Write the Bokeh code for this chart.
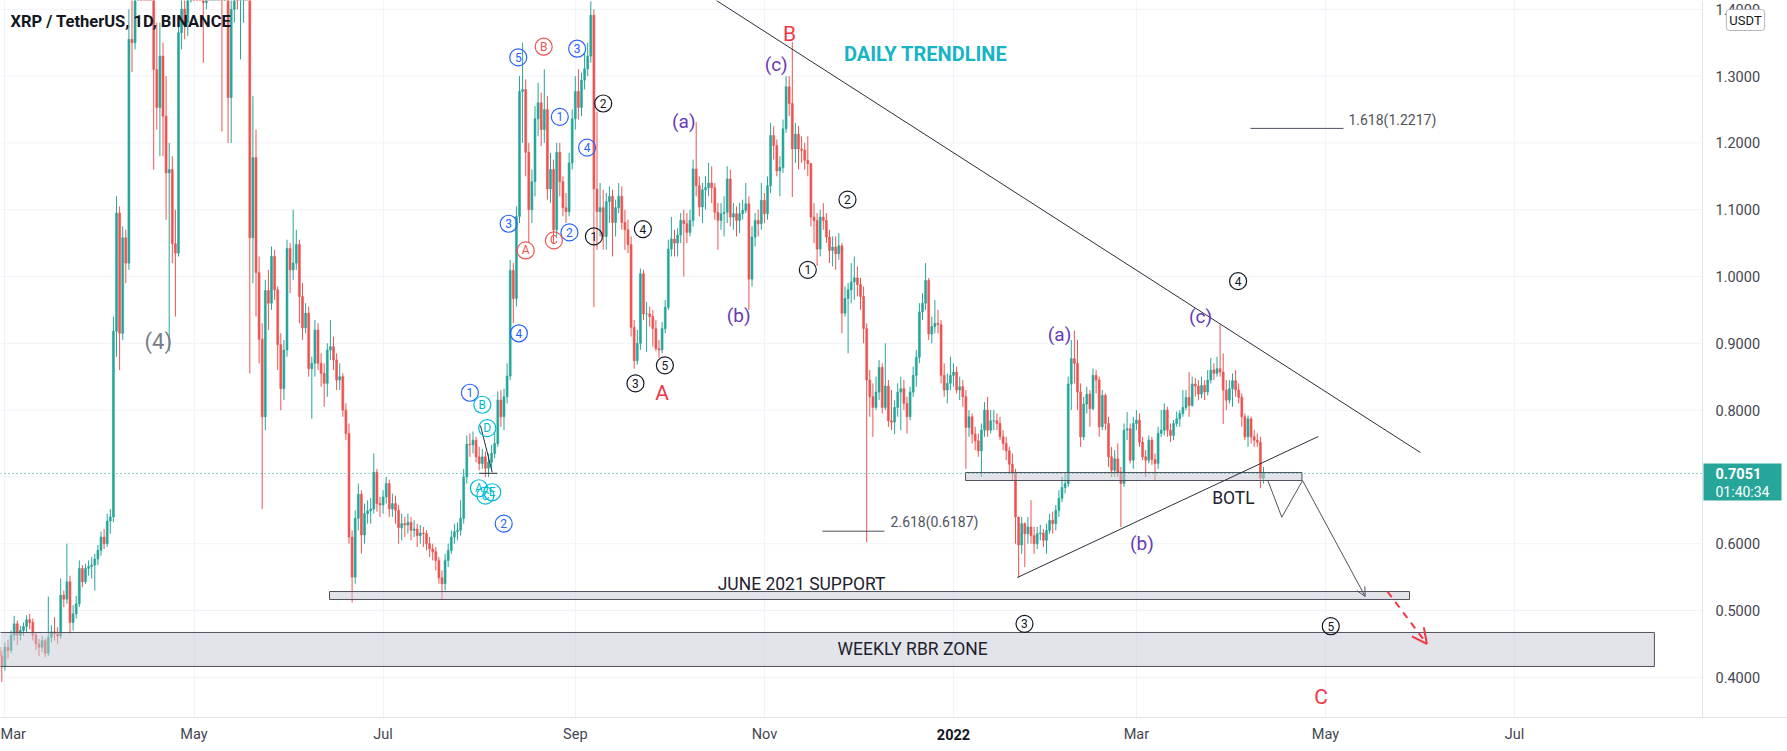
import numpy as np
import pandas as pd
from bokeh.plotting import figure
from bokeh.models import (Range1d, FixedTicker, Label, Arrow, OpenHead,
                          ColumnDataSource, Span, LinearAxis)
from bokeh.core.properties import value
from bokeh.embed import file_html
from bokeh.resources import INLINE

# ------------------------------------------------------------------ data
last_date = "2022-04-11"
first_open = 0.445
close = [
    0.432, 0.416,
    0.445, 0.440, 0.463, 0.480, 0.463, 0.470, 0.476, 0.486, 0.482, 0.463, 0.450, 0.445, 0.455, 0.436, 0.460, 0.468, 0.465, 0.462, 0.523, 0.517, 0.543, 0.482, 0.495, 0.510, 0.563, 0.543, 0.563, 0.566, 0.568, 0.577, 0.590,
    0.610, 0.600, 0.634, 0.640, 0.918, 1.095, 0.915, 1.058, 1.020, 1.355, 1.350, 1.480, 1.780, 1.740, 1.700, 1.550, 1.470, 1.310, 1.253, 1.330, 1.240, 1.155, 1.160, 1.049, 1.035, 1.365, 1.400, 1.380, 1.420, 1.600,
    1.580, 1.540, 1.480, 1.410, 1.560, 1.550, 1.590, 1.620, 1.580, 1.470, 1.530, 1.268, 1.400, 1.520, 1.440, 1.470, 1.520, 1.480, 1.058, 1.178, 1.006, 0.906, 0.790, 0.979, 0.960, 1.030, 0.980, 0.898, 0.832, 0.890, 1.042,
    1.010, 1.020, 1.048, 0.970, 0.923, 0.945, 0.862, 0.870, 0.920, 0.870, 0.855, 0.840, 0.890, 0.895, 0.875, 0.845, 0.850, 0.800, 0.765, 0.610, 0.550, 0.638, 0.674, 0.613, 0.645, 0.649, 0.652, 0.707, 0.660, 0.658,
    0.670, 0.690, 0.652, 0.660, 0.650, 0.624, 0.630, 0.628, 0.632, 0.620, 0.622, 0.612, 0.616, 0.615, 0.600, 0.592, 0.588, 0.575, 0.549, 0.540, 0.575, 0.590, 0.610, 0.618, 0.620, 0.638, 0.700, 0.749, 0.748, 0.755, 0.730,
    0.720, 0.730, 0.713, 0.722, 0.735, 0.750, 0.815, 0.790, 0.820, 0.851, 1.009, 0.967, 1.090, 1.277, 1.280, 1.186, 1.100, 1.142, 1.236, 1.260, 1.220, 1.250, 1.131, 1.160, 1.070, 1.186, 1.142, 1.103, 1.097, 1.170, 1.236,
    1.277, 1.253, 1.294, 1.311, 1.330, 1.391, 1.131, 1.097, 1.103, 1.060, 1.112, 1.120, 1.081, 1.103, 1.120, 1.081, 1.070, 1.048, 0.924, 0.874, 0.900, 1.004, 0.944, 0.944, 0.940, 0.922, 0.892, 0.890, 0.922, 0.954,
    1.041, 1.056, 1.050, 1.062, 1.084, 1.079, 1.066, 1.084, 1.161, 1.136, 1.104, 1.130, 1.133, 1.140, 1.133, 1.096, 1.084, 1.094, 1.096, 1.146, 1.089, 1.094, 1.084, 1.094, 1.099, 1.109, 0.996, 1.059, 1.084, 1.079, 1.114,
    1.094, 1.136, 1.211, 1.196, 1.158, 1.163, 1.221, 1.284, 1.259, 1.191, 1.213, 1.191, 1.189, 1.174, 1.169, 1.089, 1.084, 1.041, 1.089, 1.084, 1.059, 1.039, 1.044, 1.034, 1.046, 0.945, 0.967, 0.980, 0.992, 0.998,
    0.988, 0.970, 0.922, 0.845, 0.820, 0.804, 0.827, 0.864, 0.804, 0.836, 0.784, 0.782, 0.804, 0.827, 0.832, 0.810, 0.790, 0.827, 0.852, 0.879, 0.947, 0.960, 0.994, 0.914, 0.925, 0.930, 0.928, 0.852, 0.830, 0.840, 0.852,
    0.857, 0.830, 0.835, 0.820, 0.774, 0.790, 0.764, 0.754, 0.739, 0.770, 0.800, 0.770, 0.784, 0.784, 0.780, 0.760, 0.750, 0.739, 0.719, 0.705, 0.640, 0.598, 0.630, 0.615, 0.625, 0.612, 0.600, 0.615, 0.616, 0.605, 0.620,
    0.635, 0.630, 0.650, 0.668, 0.684, 0.690, 0.839, 0.877, 0.870, 0.827, 0.760, 0.809, 0.824, 0.802, 0.852, 0.845, 0.775, 0.822, 0.780, 0.730, 0.710, 0.727, 0.707, 0.690, 0.770, 0.772, 0.725, 0.780,
    0.785, 0.752, 0.730, 0.725, 0.755, 0.726, 0.720, 0.765, 0.770, 0.800, 0.770, 0.762, 0.780, 0.787, 0.795, 0.804, 0.819, 0.807, 0.839, 0.836, 0.824, 0.837, 0.827, 0.845, 0.860, 0.855, 0.862, 0.857, 0.830, 0.815, 0.832,
    0.844, 0.830, 0.819, 0.790, 0.760, 0.787, 0.760, 0.755, 0.752, 0.698, 0.7051,
]
high = [
    0.452, 0.440,
    0.452, 0.456, 0.470, 0.492, 0.485, 0.477, 0.482, 0.493, 0.495, 0.488, 0.468, 0.457, 0.462, 0.458, 0.521, 0.478, 0.490, 0.475, 0.548, 0.530, 0.600, 0.552, 0.508, 0.522, 0.575, 0.568, 0.570, 0.575, 0.580, 0.585, 0.598,
    0.618, 0.622, 0.645, 0.652, 0.940, 1.120, 1.105, 1.075, 1.070, 1.400, 1.440, 1.560, 1.850, 1.960, 1.800, 1.720, 1.600, 1.480, 1.380, 1.380, 1.350, 1.300, 1.200, 1.180, 1.100, 1.390, 1.450, 1.460, 1.470, 1.660,
    1.640, 1.620, 1.600, 1.540, 1.610, 1.640, 1.660, 1.700, 1.680, 1.630, 1.560, 1.560, 1.450, 1.580, 1.560, 1.530, 1.580, 1.600, 1.500, 1.270, 1.220, 1.030, 0.930, 0.995, 1.010, 1.045, 1.040, 0.985, 0.915, 0.905, 1.055,
    1.050, 1.100, 1.070, 1.055, 0.990, 0.960, 0.955, 0.880, 0.935, 0.930, 0.885, 0.870, 0.900, 0.935, 0.910, 0.885, 0.870, 0.855, 0.810, 0.780, 0.620, 0.650, 0.690, 0.680, 0.660, 0.665, 0.668, 0.735, 0.712, 0.670,
    0.680, 0.700, 0.696, 0.675, 0.672, 0.658, 0.645, 0.640, 0.645, 0.640, 0.635, 0.630, 0.628, 0.625, 0.620, 0.610, 0.600, 0.595, 0.580, 0.560, 0.585, 0.600, 0.620, 0.630, 0.632, 0.665, 0.712, 0.762, 0.765, 0.768, 0.760,
    0.745, 0.742, 0.738, 0.735, 0.748, 0.765, 0.828, 0.830, 0.832, 0.870, 1.025, 1.020, 1.105, 1.300, 1.350, 1.295, 1.200, 1.160, 1.255, 1.290, 1.275, 1.310, 1.270, 1.185, 1.175, 1.200, 1.200, 1.150, 1.125, 1.185, 1.250,
    1.300, 1.310, 1.305, 1.335, 1.350, 1.412, 1.400, 1.247, 1.140, 1.130, 1.125, 1.135, 1.130, 1.115, 1.140, 1.135, 1.100, 1.085, 1.060, 0.935, 0.920, 1.012, 1.010, 0.962, 0.955, 0.950, 0.935, 0.905, 0.932, 0.965,
    1.055, 1.089, 1.070, 1.072, 1.095, 1.100, 1.095, 1.100, 1.175, 1.231, 1.150, 1.140, 1.150, 1.170, 1.165, 1.140, 1.110, 1.110, 1.120, 1.165, 1.160, 1.110, 1.105, 1.110, 1.115, 1.140, 1.120, 1.075, 1.095, 1.100, 1.140,
    1.125, 1.150, 1.230, 1.225, 1.205, 1.180, 1.235, 1.300, 1.300, 1.351, 1.230, 1.225, 1.210, 1.200, 1.210, 1.170, 1.110, 1.095, 1.100, 1.110, 1.095, 1.070, 1.060, 1.060, 1.065, 1.050, 0.985, 0.990, 1.020, 1.030,
    1.015, 0.998, 0.985, 0.930, 0.860, 0.840, 0.850, 0.875, 0.870, 0.900, 0.845, 0.830, 0.815, 0.840, 0.850, 0.845, 0.820, 0.835, 0.865, 0.890, 0.960, 0.975, 1.020, 0.998, 0.940, 0.965, 0.950, 0.935, 0.870, 0.855, 0.880,
    0.870, 0.865, 0.850, 0.845, 0.830, 0.800, 0.795, 0.775, 0.765, 0.780, 0.812, 0.820, 0.800, 0.800, 0.795, 0.790, 0.770, 0.760, 0.745, 0.735, 0.712, 0.640, 0.640, 0.632, 0.640, 0.665, 0.625, 0.625, 0.628, 0.622, 0.630,
    0.645, 0.648, 0.658, 0.680, 0.700, 0.705, 0.850, 0.905, 0.919, 0.905, 0.840, 0.820, 0.835, 0.830, 0.862, 0.860, 0.850, 0.830, 0.825, 0.790, 0.745, 0.740, 0.750, 0.715, 0.780, 0.797, 0.780, 0.790,
    0.800, 0.795, 0.760, 0.740, 0.762, 0.760, 0.735, 0.775, 0.800, 0.810, 0.805, 0.780, 0.785, 0.798, 0.800, 0.830, 0.830, 0.857, 0.850, 0.848, 0.845, 0.850, 0.845, 0.860, 0.878, 0.870, 0.880, 0.928, 0.885, 0.845, 0.845,
    0.855, 0.860, 0.840, 0.825, 0.795, 0.792, 0.790, 0.770, 0.765, 0.760, 0.715,
]
low = [
    0.425, 0.393,
    0.410, 0.428, 0.436, 0.455, 0.448, 0.455, 0.462, 0.466, 0.472, 0.455, 0.441, 0.432, 0.438, 0.430, 0.432, 0.452, 0.455, 0.450, 0.458, 0.505, 0.510, 0.465, 0.470, 0.488, 0.505, 0.535, 0.540, 0.552, 0.548, 0.530, 0.568,
    0.582, 0.592, 0.595, 0.615, 0.632, 0.880, 0.860, 0.905, 0.990, 1.010, 1.306, 1.340, 1.450, 1.600, 1.620, 1.480, 1.430, 1.160, 1.220, 1.180, 1.180, 1.085, 0.888, 1.020, 0.940, 1.030, 1.340, 1.355, 1.360, 1.410,
    1.500, 1.480, 1.420, 1.320, 1.400, 1.480, 1.500, 1.540, 1.460, 1.217, 1.420, 1.200, 1.200, 1.380, 1.400, 1.325, 1.380, 1.440, 0.855, 0.990, 0.940, 0.870, 0.652, 0.770, 0.920, 0.950, 0.965, 0.860, 0.800, 0.815, 0.880,
    0.975, 0.995, 1.010, 0.930, 0.905, 0.915, 0.850, 0.787, 0.850, 0.860, 0.835, 0.805, 0.820, 0.875, 0.860, 0.830, 0.830, 0.790, 0.755, 0.600, 0.512, 0.540, 0.620, 0.585, 0.600, 0.630, 0.630, 0.645, 0.648, 0.640,
    0.645, 0.660, 0.640, 0.640, 0.630, 0.600, 0.605, 0.610, 0.615, 0.605, 0.610, 0.595, 0.600, 0.595, 0.590, 0.580, 0.575, 0.560, 0.540, 0.517, 0.530, 0.565, 0.585, 0.600, 0.605, 0.612, 0.630, 0.690, 0.730, 0.735, 0.722,
    0.710, 0.712, 0.700, 0.700, 0.712, 0.728, 0.745, 0.775, 0.770, 0.810, 0.845, 0.930, 0.955, 1.080, 1.200, 1.150, 1.050, 1.080, 1.120, 1.210, 1.195, 1.200, 1.115, 1.110, 1.050, 1.060, 1.120, 1.090, 1.080, 1.090, 1.160,
    1.220, 1.235, 1.240, 1.280, 1.300, 1.320, 0.954, 1.040, 1.060, 1.040, 1.040, 1.080, 1.030, 1.060, 1.095, 1.070, 1.040, 1.035, 0.910, 0.862, 0.868, 0.890, 0.935, 0.887, 0.925, 0.895, 0.888, 0.878, 0.885, 0.915,
    0.950, 1.030, 1.030, 1.030, 1.050, 1.000, 1.050, 1.060, 1.075, 1.120, 1.090, 1.080, 1.100, 1.120, 1.110, 1.085, 1.040, 1.070, 1.060, 1.080, 1.075, 1.070, 1.060, 1.065, 1.085, 1.095, 0.950, 0.985, 1.045, 1.060, 1.070,
    1.080, 1.085, 1.125, 1.175, 1.150, 1.120, 1.155, 1.215, 1.240, 1.119, 1.170, 1.160, 1.170, 1.160, 1.150, 1.075, 1.050, 1.016, 1.030, 1.070, 1.050, 1.020, 1.015, 1.010, 1.025, 0.915, 0.940, 0.885, 0.960, 0.965,
    0.970, 0.950, 0.900, 0.602, 0.790, 0.760, 0.800, 0.815, 0.795, 0.800, 0.775, 0.770, 0.764, 0.790, 0.770, 0.800, 0.765, 0.785, 0.820, 0.835, 0.870, 0.935, 0.950, 0.905, 0.900, 0.915, 0.915, 0.840, 0.820, 0.810, 0.830,
    0.835, 0.825, 0.815, 0.805, 0.712, 0.760, 0.750, 0.740, 0.730, 0.700, 0.760, 0.760, 0.765, 0.770, 0.770, 0.755, 0.740, 0.725, 0.705, 0.695, 0.600, 0.549, 0.585, 0.565, 0.600, 0.600, 0.585, 0.592, 0.605, 0.595, 0.585,
    0.615, 0.615, 0.620, 0.640, 0.662, 0.675, 0.685, 0.800, 0.840, 0.800, 0.745, 0.755, 0.795, 0.775, 0.800, 0.825, 0.760, 0.770, 0.770, 0.715, 0.700, 0.700, 0.700, 0.625, 0.685, 0.755, 0.720, 0.712,
    0.770, 0.745, 0.725, 0.700, 0.720, 0.718, 0.695, 0.712, 0.760, 0.762, 0.760, 0.752, 0.755, 0.775, 0.775, 0.790, 0.800, 0.790, 0.805, 0.820, 0.815, 0.818, 0.815, 0.822, 0.840, 0.845, 0.850, 0.850, 0.779, 0.800, 0.810,
    0.805, 0.820, 0.810, 0.775, 0.755, 0.745, 0.750, 0.745, 0.745, 0.683, 0.690,
]

month_ticks = ["2021-03-01", "2021-05-01", "2021-07-01", "2021-09-01", "2021-11-01",
               "2022-01-01", "2022-03-01", "2022-05-01", "2022-07-01"]
month_labels = ["Mar", "May", "Jul", "Sep", "Nov", "2022", "Mar", "May", "Jul"]
year_label = "2022"
price_ticks = [0.4, 0.5, 0.6, 0.7, 0.8, 0.9, 1.0, 1.1, 1.2, 1.3, 1.4]
last_price = 0.7051
countdown = "01:40:34"
currency = "USDT"
title_text = "XRP / TetherUS, 1D, BINANCE"

# drawings (x = days from 2022-01-01, y = price)
wave_x = [-140.4, -121.4, -127.0, -118.2, -143.5, -123.9, -140.2, -156.0, -145.1,
          -132.2, -138.0, -128.9,
          -152.0, -150.4, -153.1, -151.0, -148.8,
          -113.0, -116.0, -100.2, -102.6, -93.1, -47.0, -34.2, 91.8, 22.9, 121.7]
wave_y = [1.328, 1.341, 1.239, 1.193, 1.079, 1.066, 0.915, 0.826, 0.630,
          1.344, 1.039, 1.054,
          0.808, 0.773, 0.683, 0.672, 0.677,
          1.259, 1.060, 1.071, 0.840, 0.867, 1.010, 1.115, 0.993, 0.480, 0.4765]
wave_text = ["5", "3", "1", "4", "3", "2", "4", "1", "2",
             "B", "A", "C",
             "B", "D", "A", "C", "E",
             "2", "1", "4", "3", "5", "1", "2", "4", "3", "5"]
wave_group = ["blue"] * 9 + ["red"] * 3 + ["cyan"] * 5 + ["black"] * 10

letter_x = [-87.0, -69.3, -57.2, 34.2, 79.7, 60.8]
letter_y = [1.232, 0.941, 1.318, 0.913, 0.940, 0.601]
letter_text = ["(a)", "(b)", "(c)", "(a)", "(c)", "(b)"]
big_x = [-52.9, -94.0, 118.6]
big_y = [1.363, 0.825, 0.370]
big_text = ["B", "A", "C"]
deg4_x, deg4_y = [-256.5], [0.902]

zone_left = [-330.0, -201.3, 3.9]
zone_right = [226.1, 147.1, 112.4]
zone_bottom = [0.4162, 0.5165, 0.6946]
zone_top = [0.4671, 0.5284, 0.7066]

note_x = [-49.0, -13.2, 90.3]
note_y = [0.5404, 0.4431, 0.6677]
note_text = ["JUNE 2021 SUPPORT", "WEEKLY RBR ZONE", "BOTL"]

trend_down_x, trend_down_y = [-76.5, 150.6], [1.4132, 0.7365]
trend_up_x, trend_up_y = [20.6, 117.7], [0.5494, 0.7605]
path_x, path_y = [101.4, 105.9, 112.6, 132.8], [0.6946, 0.6397, 0.6946, 0.521]
red_arrow_x, red_arrow_y = [140.0, 152.7], [0.5284, 0.450]
tri_x1, tri_y1 = [-152.6, -148.8], [0.7769, 0.707]
tri_x2, tri_y2 = [-153.1, -147.2], [0.7054, 0.7054]

fib_level = [1.2217, 0.6187]
fib_x0 = [95.8, -42.3]
fib_x1 = [125.8, -22.3]
fib_tx = [127.4, -20.3]
fib_ty = [1.235, 0.6332]
fib_text = ["1.618(1.2217)", "2.618(0.6187)"]

# ------------------------------------------------------------------ prep
REF = pd.Timestamp("2022-01-01")
dates = pd.date_range(end=last_date, periods=len(close), freq="D")
xday = ((dates - REF) / pd.Timedelta(days=1)).to_numpy().astype(float)
c = np.array(close)
o = np.array([first_open] + close[:-1])
hi = np.maximum(np.array(high), np.maximum(o, c))
lo = np.minimum(np.array(low), np.minimum(o, c))
UP, DN = "#26a69a", "#ef5350"
col = np.where(c >= o, UP, DN)
src = ColumnDataSource(dict(x=xday, top=np.maximum(o, c), bot=np.minimum(o, c),
                            hi=hi, lo=lo, color=col))
tick_days = [float((pd.Timestamp(t) - REF).days) for t in month_ticks]

# pixel geometry of the chart window (3.1 px per day, 668 px per 1.0 of price)
PXD, PXP = 3.1, 668.0
XJAN, Y1P = 953.0, 276.0
def xd(px):
    return (px - XJAN) / PXD
def yp(py):
    return 1 - (py - Y1P) / PXP

FONT = "Roboto"
W, H, FH = 1787, 751, 717
X0, X1 = xd(0), xd(W)
Y0, Y1 = yp(FH), yp(0)
XSEP = xd(1702)

p = figure(width=W, height=H, output_backend="svg", toolbar_location=None,
           x_range=Range1d(X0, X1), y_range=Range1d(Y0, Y1),
           y_axis_location=None, min_border_left=0, min_border_top=0,
           min_border_right=0, min_border_bottom=H - FH)
p.outline_line_color = None
p.background_fill_color = "white"
p.border_fill_color = "white"

def style_xaxis(ax):
    ax.major_tick_line_color = None
    ax.minor_tick_line_color = None
    ax.major_tick_out = 0
    ax.major_tick_in = 0
    ax.minor_tick_out = 0
    ax.minor_tick_in = 0
    ax.major_label_text_font = FONT
    ax.major_label_text_font_size = "14.5px"
    ax.major_label_text_color = "#434651"

xa = p.xaxis[0]
xa.ticker = FixedTicker(ticks=tick_days)
xa.major_label_overrides = {d: ("" if l == year_label else l) for d, l in zip(tick_days, month_labels)}
style_xaxis(xa)
xa.axis_line_color = "#e0e3eb"
xa.major_label_standoff = 8

# second axis row carrying only the bold year label, pulled up onto the month row
year_days = [d for d, l in zip(tick_days, month_labels) if l == year_label]
xb = LinearAxis(ticker=FixedTicker(ticks=year_days))
style_xaxis(xb)
xb.major_label_overrides = {d: year_label for d in year_days}
xb.axis_line_color = None
xb.major_label_text_font_style = "bold"
xb.major_label_text_color = "#131722"
xb.major_label_standoff = -17
p.add_layout(xb, "below")

p.xgrid.ticker = FixedTicker(ticks=tick_days)
p.xgrid.grid_line_color = "#f0f3fa"
p.ygrid.visible = False

# horizontal price grid (stops at the price scale)
p.segment(x0=X0, x1=XSEP, y0=price_ticks, y1=price_ticks, line_color="#f0f3fa", line_width=1)

# candles
p.segment(x0="x", y0="lo", x1="x", y1="hi", line_color="color", line_width=1, source=src)
p.vbar(x="x", width=0.62, top="top", bottom="bot", fill_color="color",
       line_color="color", line_width=0.6, source=src)

# zones
p.quad(left=zone_left, right=zone_right, bottom=zone_bottom, top=zone_top,
       fill_color="#c8cad3", fill_alpha=0.5, line_color="#50535e", line_width=1)

p.segment(x0=X0, x1=XSEP, y0=last_price, y1=last_price, line_color=UP,
          line_dash="1 3", line_width=1)

LINE = "#2a2e39"
p.line(trend_down_x, trend_down_y, line_color=LINE, line_width=1)
p.line(trend_up_x, trend_up_y, line_color=LINE, line_width=1)
p.line(path_x[:3], path_y[:3], line_color="#50535e", line_width=1)
p.add_layout(Arrow(end=OpenHead(size=9, line_color="#50535e", line_width=1),
                   x_start=path_x[2], y_start=path_y[2], x_end=path_x[3], y_end=path_y[3],
                   line_color="#50535e", line_width=1))
p.add_layout(Arrow(end=OpenHead(size=15, line_color="#f23645", line_width=2),
                   x_start=red_arrow_x[0], y_start=red_arrow_y[0],
                   x_end=red_arrow_x[1], y_end=red_arrow_y[1],
                   line_color="#f23645", line_width=2, line_dash="7 6"))
p.line(tri_x1, tri_y1, line_color=LINE, line_width=1)
p.line(tri_x2, tri_y2, line_color=LINE, line_width=1)

# fib levels
p.segment(x0=fib_x0, x1=fib_x1, y0=fib_level, y1=fib_level, line_color="#50535e", line_width=1)
p.text(fib_tx, fib_ty, text=fib_text, text_font=value(FONT), text_font_size="14px",
       text_color="#50535e", text_align="left", text_baseline="middle")

# wave circles
gcol = {"blue": "#2962ff", "red": "#f05350", "cyan": "#00bcd4", "black": "#131722"}
wsrc = ColumnDataSource(dict(x=wave_x, y=wave_y, t=wave_text,
                             c=[gcol[g] for g in wave_group]))
p.scatter("x", "y", source=wsrc, marker="circle", size=17, fill_color=None,
          line_color="c", line_width=1.2)
p.text("x", "y", text="t", source=wsrc, text_font=value(FONT), text_font_size="12px",
       text_color="c", text_align="center", text_baseline="middle")

p.text(letter_x, letter_y, text=letter_text, text_font=value(FONT), text_font_size="19px",
       text_color="#673ab7", text_align="center", text_baseline="middle")
p.text(big_x, big_y, text=big_text, text_font=value(FONT), text_font_size="21px",
       text_color="#f23645", text_align="center", text_baseline="middle")
p.text(deg4_x, deg4_y, text=["(4)"], text_font=value(FONT), text_font_size="22px",
       text_color="#787b86", text_align="center", text_baseline="middle")

p.text(note_x, note_y, text=note_text, text_font=value(FONT), text_font_size="17.5px",
       text_color="#1e222d", text_align="center", text_baseline="middle")
p.text([-9.0], [1.3338], text=["DAILY TRENDLINE"], text_font=value(FONT),
       text_font_size="20px", text_font_style="bold", text_color="#17b3c6",
       text_align="center", text_baseline="middle")

# ---- price scale column (right of the chart window)
p.add_layout(Span(location=XSEP, dimension="height", line_color="#e0e3eb", line_width=1))
p.text(x=xd(1715), y=price_ticks, text=[f"{v:.4f}" for v in price_ticks],
       text_font=value(FONT), text_font_size="14.5px", text_color="#434651",
       text_align="left", text_baseline="middle")
p.quad(left=xd(1703), right=xd(1781), bottom=yp(500), top=yp(463),
       fill_color=UP, line_color=None)
p.text(x=xd(1715), y=last_price, text=[f"{last_price:.4f}"], text_font=value(FONT),
       text_font_size="14.5px", text_font_style="bold", text_color="white",
       text_align="left", text_baseline="middle")
p.text(x=xd(1715), y=yp(491), text=[countdown], text_font=value(FONT),
       text_font_size="14px", text_color="white", text_align="left", text_baseline="middle")
p.add_layout(Label(x=xd(1745), y=yp(19.5), text=currency,
                   text_font=FONT, text_font_size="13px", text_color="#131722",
                   text_align="center", text_baseline="middle",
                   background_fill_color="white", border_line_color="#b2b5be",
                   padding=3, border_radius=3))

# header
p.add_layout(Label(x=10, y=FH - 21, x_units="screen", y_units="screen", text=title_text,
                   text_font=FONT, text_font_size="16.5px", text_font_style="bold",
                   text_color="#131722", text_baseline="middle"))

open("out.html", "w").write(file_html(p, INLINE))
